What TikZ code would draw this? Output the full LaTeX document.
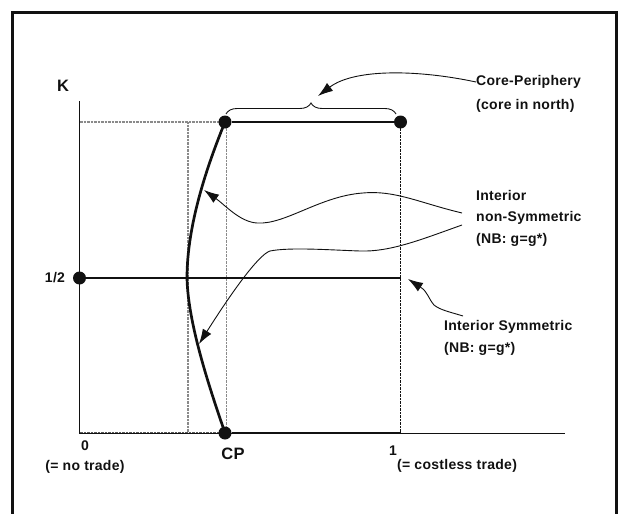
\documentclass[tikz,border=0pt]{standalone}
\usepackage{fontspec}
\setmainfont{Liberation Sans}[LetterSpace=2]
\usepackage{xcolor}
\usepackage{tikz}
\usetikzlibrary{arrows.meta,decorations.pathreplacing,backgrounds}
\definecolor{figink}{HTML}{111111}
\definecolor{figgray}{HTML}{8A8A8A}
\tikzset{
  lbl/.style={font=\fontsize{14}{16}\selectfont\bfseries, inner sep=0pt, text=figink},
  biglbl/.style={font=\fontsize{16.5}{18}\selectfont\bfseries, inner sep=0pt, text=figink},
  eqpt/.style={circle, fill=figink, minimum size=13pt, inner sep=0pt},
  guide/.style={figgray, line width=1.3pt, dash pattern=on 0.8pt off 0.6pt},
  callout/.style={figink, line width=0.9pt, -{Latex[length=15pt,width=10pt]}},
  branch/.style={figink, line width=2.4pt},
}

\begin{document}
\begin{tikzpicture}[x=1pt,y=-1pt]
    \useasboundingbox (0,0) rectangle (619,514);
    % frame, cut off at the foot
    \draw[figink, line width=3pt] (12.5,520) -- (12.5,12.5) -- (616,12.5) -- (616,520);

    \coordinate (O) at (79.5,433);
    \coordinate (ytop) at (79.5,101);
    \coordinate (xend) at (565,433);
    \coordinate (topL) at (79.5,122);
    \coordinate (oneM) at (400.5,278);
    \coordinate (oneB) at (400.5,433);
    \coordinate (kink) at (187,278);
    \coordinate (brL) at (226,114);
    \coordinate (brR) at (396,114);
    \coordinate (brTip) at (318,96);
    \coordinate (nsA) at (462,213);
    \coordinate (nsB) at (462,225);
    \coordinate (tipA) at (204,190);
    \coordinate (tipB) at (199,344);
    \coordinate (symS) at (463,316);
    \coordinate (tipS) at (408,279);

    % equilibrium points
    \node[eqpt] (cpT) at (225,122) {};
    \node[eqpt] (oneT) at (400.5,122) {};
    \node[eqpt] (half) at (79.5,278) {};
    \node[eqpt] (cpB) at (225,433) {};

    % guides and axes behind the points
    \begin{scope}[on background layer]
      \draw[guide] (topL) -- (cpT.center);
      \draw[guide] (188,122) -- (188,433);
      \draw[guide] (226.5,122) -- (226.5,433);
      \draw[guide, figink, line width=0.8pt] (oneT.center) -- (oneB);
      \draw[guide, figink!70, line width=2pt] (O) -- (cpB.center);
      \draw[figink, line width=0.9pt] (ytop) -- (O) -- (xend);
    \end{scope}

    % branches
    \draw[branch] (cpT) -- (oneT);
    \draw[branch] (half) -- (oneM);
    \draw[branch] (cpB) -- (oneB);
    \draw[branch, line width=2.7pt] (cpT.center) .. controls (207,166) and (187,225) .. (kink)
        .. controls (188,325) and (211,392) .. (cpB.center);
    \draw[figink, line width=0.9pt, decorate, decoration={brace, amplitude=11pt}] (brL) -- (brR);

    % labels
    \node[biglbl] (klbl) at (63,86) {K};
    \node[lbl] (halflbl) at (55,278) {1/2};
    \node[lbl] (zero) at (85,446) {0};
    \node[lbl] (notrade) at (85,467) {(= no trade)};
    \node[biglbl] (cplbl) at (233,454) {CP};
    \node[lbl] (one) at (393,451) {1};
    \node[lbl, anchor=west] (costless) at (397,466) {(= costless trade)};
    \node[lbl, anchor=west] (corep) at (476,82) {Core-Periphery};
    \node[lbl, anchor=west] (corenorth) at (476,106) {(core in north)};
    \node[lbl, anchor=west] (interior) at (476,195) {Interior};
    \node[lbl, anchor=west] (nonsym) at (476,218) {non-Symmetric};
    \node[lbl, anchor=west] (nbA) at (476,240) {(NB: g=g*)};
    \node[lbl, anchor=west] (intsym) at (444,327) {Interior Symmetric};
    \node[lbl, anchor=west] (nbB) at (444,349) {(NB: g=g*)};

    % callouts
    \draw[callout] (corep.west) .. controls (420,70) and (355,68) .. (brTip);
    \draw[callout] (nsA) .. controls (420,203) and (395,190) .. (363,193)
        .. controls (320,196) and (285,225) .. (257,223)
        .. controls (240,222) and (225,205) .. (tipA);
    \draw[callout] (nsB) .. controls (420,240) and (390,252) .. (360,251)
        .. controls (330,250) and (290,247) .. (270,251)
        .. controls (258,255) and (230,295) .. (tipB);
    \draw[callout] (symS) .. controls (450,312) and (440,310) .. (434,305)
        .. controls (428,298) and (428,292) .. (tipS);
\end{tikzpicture}
\end{document}
